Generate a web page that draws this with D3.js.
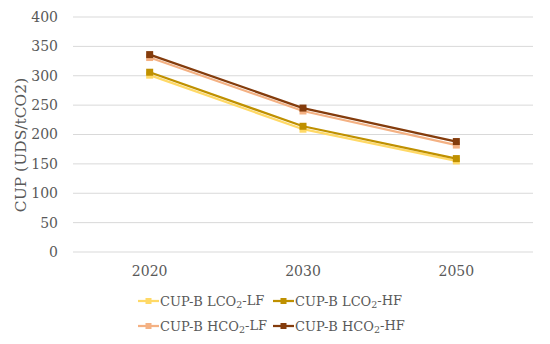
<!DOCTYPE html>
<html>
<head>
<meta charset="utf-8">
<script src="https://cdn.jsdelivr.net/npm/d3@7"></script>
<style>
  body { margin: 0; background: #fff; }
  text { font-family: "DejaVu Serif", "Liberation Serif", serif; fill: #595959; }
</style>
</head>
<body>
<div id="chart"></div>
<script>
const width = 550,
    height = 344,
    padLeft = 73, padRight = 533,
    padTop = 17, padBottom = 252;

const years = ["2020", "2030", "2050"];
const yTicks = [0, 50, 100, 150, 200, 250, 300, 350, 400];
const seriesNames = ["CUP-B LCO2-LF", "CUP-B LCO2-HF", "CUP-B HCO2-LF", "CUP-B HCO2-HF"];
const seriesColors = ["#FFD966", "#BF9000", "#F4B183", "#843C0C"];
const lco2lf = [301, 209, 155];
const lco2hf = [306, 214, 159];
const hco2lf = [331, 240, 182];
const hco2hf = [336, 245, 188];
const seriesValues = [lco2lf, lco2hf, hco2lf, hco2hf];

const x = d3.scaleBand().domain(years).range([padLeft, padRight]);
const y = d3.scaleLinear().domain([0, 400]).range([padBottom, padTop]);

const svg = d3.select("#chart").append("svg")
    .attr("width", width)
    .attr("height", height);

// gridlines
svg.append("g")
    .selectAll("line")
    .data(yTicks)
    .enter().append("line")
    .attr("x1", padLeft).attr("x2", padRight)
    .attr("y1", d => y(d)).attr("y2", d => y(d))
    .attr("stroke", "#d9d9d9")
    .attr("stroke-width", 1);

// y tick labels
svg.append("g")
    .selectAll("text")
    .data(yTicks)
    .enter().append("text")
    .attr("x", 58)
    .attr("y", d => y(d))
    .attr("dy", "0.35em")
    .attr("text-anchor", "end")
    .style("font-size", "14px")
    .text(d => d);

// x labels
svg.append("g")
    .selectAll("text")
    .data(years)
    .enter().append("text")
    .attr("x", d => x(d) + x.bandwidth() / 2)
    .attr("y", 276)
    .attr("text-anchor", "middle")
    .style("font-size", "14px")
    .text(d => d);

// y title
svg.append("text")
    .attr("transform", "translate(26,145) rotate(-90)")
    .attr("text-anchor", "middle")
    .style("font-size", "15.5px")
    .text("CUP (UDS/tCO2)");

const line = d3.line()
    .x((d, i) => x(years[i]) + x.bandwidth() / 2)
    .y(d => y(d));

seriesValues.forEach((vals, s) => {
    svg.append("path")
        .datum(vals)
        .attr("d", line)
        .attr("fill", "none")
        .attr("stroke", seriesColors[s])
        .attr("stroke-width", 2.25);
    svg.append("g")
        .selectAll("rect")
        .data(vals)
        .enter().append("rect")
        .attr("x", (d, i) => x(years[i]) + x.bandwidth() / 2 - 3.5)
        .attr("y", d => y(d) - 3.5)
        .attr("width", 7)
        .attr("height", 7)
        .attr("fill", seriesColors[s]);
});

// legend
const legendPos = [[138, 301], [273, 301], [138, 326], [273, 326]];
seriesNames.forEach((name, s) => {
    const g = svg.append("g")
        .attr("transform", "translate(" + legendPos[s][0] + "," + legendPos[s][1] + ")");
    g.append("line")
        .attr("x1", 0).attr("x2", 21)
        .attr("stroke", seriesColors[s])
        .attr("stroke-width", 2.25);
    g.append("rect")
        .attr("x", 7.5).attr("y", -3).attr("width", 6).attr("height", 6)
        .attr("fill", seriesColors[s]);
    const parts = name.split("CO2");
    const t = g.append("text")
        .attr("x", 22)
        .attr("dy", "0.35em")
        .style("font-size", "13px");
    t.append("tspan").text(parts[0] + "CO");
    t.append("tspan").attr("dy", "0.3em").style("font-size", "9.5px").text("2");
    t.append("tspan").attr("dy", "-0.3em").text(parts[1]);
});
</script>
</body>
</html>
